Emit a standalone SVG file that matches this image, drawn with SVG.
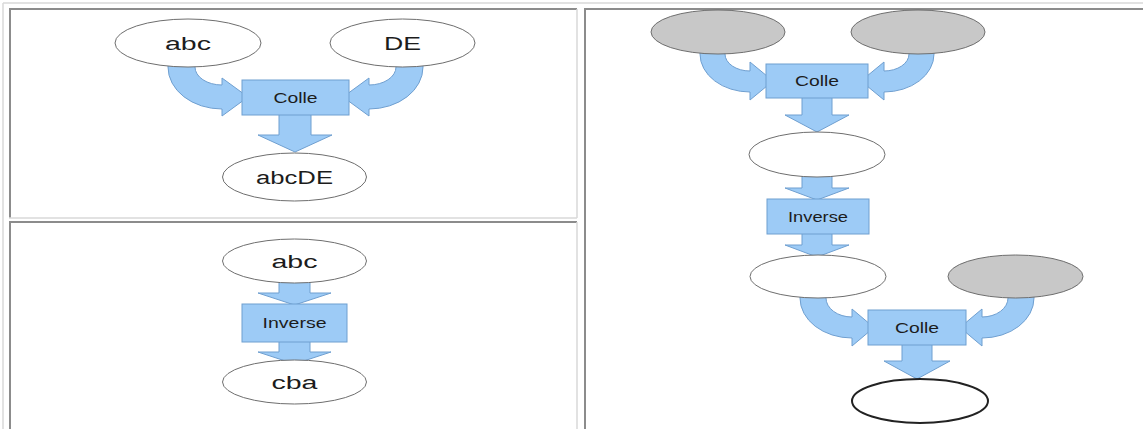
<svg xmlns="http://www.w3.org/2000/svg" width="1143" height="429" viewBox="0 0 1143 429">
<style>
.bg{fill:#ffffff}
.lt{stroke:#d9d9d9;stroke-width:1.5;fill:none}
.dk{stroke:#8c8c8c;stroke-width:2;fill:none}
.arr{fill:#9dcbf6;stroke:#6f9fd0;stroke-width:1}
.box{fill:#9dcbf6;stroke:#6f9fd0;stroke-width:1}
.ell{fill:#ffffff;stroke:#6e6e6e;stroke-width:1}
.grey{fill:#c8c8c8;stroke:#6e6e6e;stroke-width:1}
.bold{fill:#ffffff;stroke:#222222;stroke-width:2}
.t{font-family:"Liberation Sans",Arial,sans-serif;fill:#1c1c1c;text-anchor:middle}
.big{font-size:18px}
.sm{font-size:14px}
</style>
<rect class="bg" x="0" y="0" width="1143" height="429"/>
<g id="frame">
<line class="lt" x1="3" y1="3" x2="1143" y2="3"/>
<line class="lt" x1="3" y1="3" x2="3" y2="429"/>
<line class="dk" x1="9" y1="9" x2="577" y2="9"/>
<line class="dk" x1="10" y1="9" x2="10" y2="218"/>
<line class="lt" x1="577" y1="9" x2="577" y2="218"/>
<line class="lt" x1="9" y1="218" x2="577" y2="218"/>
<line class="dk" x1="9" y1="222" x2="577" y2="222"/>
<line class="dk" x1="10" y1="222" x2="10" y2="429"/>
<line class="lt" x1="577" y1="222" x2="577" y2="429"/>
<line class="dk" x1="584" y1="9" x2="1143" y2="9"/>
<line class="dk" x1="585" y1="9" x2="585" y2="429"/>
</g>
<g id="connectors">
<path class="arr" d="M168,60 L168,67 A54,42 0 0,0 222,109 L222,116 L248,97 L222,78 L222,85 A27,18 0 0,1 195,67 L195,60 Z"/>
<path class="arr" d="M423,60 L423,67 A54,42 0 0,1 369,109 L369,116 L343,97 L369,78 L369,85 A27,18 0 0,0 396,67 L396,60 Z"/>
<path class="arr" d="M279,113 L311,113 L311,135 L332,135 L295,152 L258,135 L279,135 Z"/>
<path class="arr" d="M279,281 L310,281 L310,293 L331,293 L294.5,305 L258,293 L279,293 Z"/>
<path class="arr" d="M279,340 L310,340 L310,352 L331,352 L294.5,364 L258,352 L279,352 Z"/>
<path class="arr" d="M700,48 L700,54 A50,38 0 0,0 750,92 L750,100 L773,81 L750,62 L750,71 A25,17 0 0,1 725,54 L725,48 Z"/>
<path class="arr" d="M934,48 L934,54 A50,38 0 0,1 884,92 L884,100 L861,81 L884,62 L884,71 A25,17 0 0,0 909,54 L909,48 Z"/>
<path class="arr" d="M802,96 L832,96 L832,115 L849,115 L817,132 L785,115 L802,115 Z"/>
<path class="arr" d="M802,175 L832,175 L832,188 L849,188 L817,200 L785,188 L802,188 Z"/>
<path class="arr" d="M802,232 L832,232 L832,245 L849,245 L817,257 L785,245 L802,245 Z"/>
<path class="arr" d="M800,292 L800,298 A52,40 0 0,0 852,338 L852,346 L874,327.5 L852,309 L852,317 A26,19 0 0,1 826,298 L826,292 Z"/>
<path class="arr" d="M1034,292 L1034,298 A52,40 0 0,1 982,338 L982,346 L960,327.5 L982,309 L982,317 A26,19 0 0,0 1008,298 L1008,292 Z"/>
<path class="arr" d="M902,343 L932,343 L932,361 L950,361 L917,379 L884,361 L902,361 Z"/>
</g>
<g id="tl-abc"><ellipse class="ell" cx="188" cy="43" rx="73" ry="24"/><text class="t big" x="188" y="49.5" textLength="46" lengthAdjust="spacingAndGlyphs">abc</text></g>
<g id="tl-de"><ellipse class="ell" cx="402.5" cy="43" rx="72.5" ry="24"/><text class="t big" x="402.5" y="49.5" textLength="37" lengthAdjust="spacingAndGlyphs">DE</text></g>
<g id="tl-colle"><rect class="box" x="242" y="80" width="107" height="35"/><text class="t sm" x="295.5" y="102.5" textLength="44" lengthAdjust="spacingAndGlyphs">Colle</text></g>
<g id="tl-abcde"><ellipse class="ell" cx="294.5" cy="177" rx="72" ry="24"/><text class="t big" x="294.5" y="183.5" textLength="77" lengthAdjust="spacingAndGlyphs">abcDE</text></g>
<g id="bl-abc"><ellipse class="ell" cx="294.5" cy="261" rx="72" ry="22"/><text class="t big" x="294.5" y="267.5" textLength="46" lengthAdjust="spacingAndGlyphs">abc</text></g>
<g id="bl-inverse"><rect class="box" x="242" y="304" width="105" height="38"/><text class="t sm" x="294.5" y="328" textLength="64" lengthAdjust="spacingAndGlyphs">Inverse</text></g>
<g id="bl-cba"><ellipse class="ell" cx="294.5" cy="382" rx="72" ry="22"/><text class="t big" x="294.5" y="388.5" textLength="46" lengthAdjust="spacingAndGlyphs">cba</text></g>
<g id="r-grey1"><ellipse class="grey" cx="718" cy="32" rx="67" ry="22"/></g>
<g id="r-grey2"><ellipse class="grey" cx="918" cy="32" rx="67" ry="22"/></g>
<g id="r-colle1"><rect class="box" x="766" y="64" width="102" height="34"/><text class="t sm" x="817" y="86" textLength="44" lengthAdjust="spacingAndGlyphs">Colle</text></g>
<g id="r-white1"><ellipse class="ell" cx="817" cy="154.5" rx="68" ry="22.5"/></g>
<g id="r-inverse"><rect class="box" x="767" y="199" width="102" height="35"/><text class="t sm" x="818" y="221.5" textLength="60" lengthAdjust="spacingAndGlyphs">Inverse</text></g>
<g id="r-white2"><ellipse class="ell" cx="818" cy="276.5" rx="68" ry="21.5"/></g>
<g id="r-grey3"><ellipse class="grey" cx="1015.5" cy="276.5" rx="67.5" ry="21.5"/></g>
<g id="r-colle2"><rect class="box" x="868" y="310" width="98" height="35"/><text class="t sm" x="917" y="332.5" textLength="44" lengthAdjust="spacingAndGlyphs">Colle</text></g>
<g id="r-final"><ellipse class="bold" cx="920" cy="401" rx="68" ry="22"/></g>
</svg>
